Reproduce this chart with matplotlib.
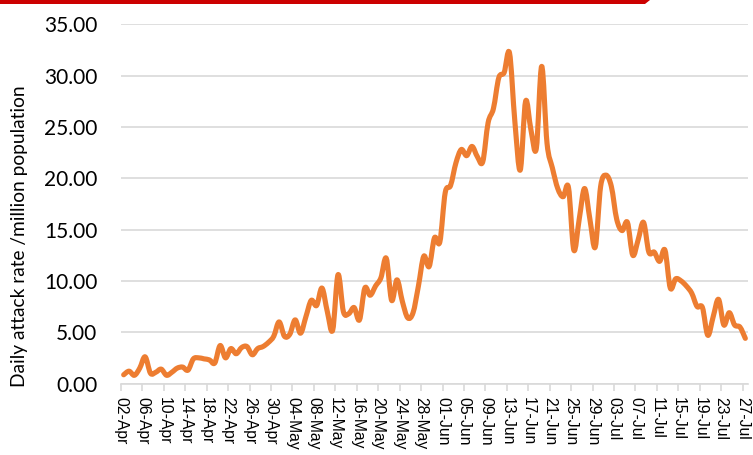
import matplotlib
matplotlib.use("Agg")
import matplotlib.pyplot as plt
from matplotlib.patches import Polygon, PathPatch
from matplotlib.path import Path
import datetime as dt

# ---- data ----
start_date = dt.date(2020, 4, 2)
rates = [
    0.85, 1.2, 0.8, 1.5, 2.6, 1.0, 1.1, 1.4, 0.8, 1.1,
    1.5, 1.6, 1.3, 2.4, 2.5, 2.4, 2.3, 2.0, 3.7, 2.5,
    3.4, 2.9, 3.5, 3.6, 2.8, 3.4, 3.6, 4.0, 4.6, 6.0,
    4.6, 4.8, 6.2, 4.9, 6.5, 8.1, 7.6, 9.3, 7.0, 5.2,
    10.6, 7.0, 6.8, 7.4, 6.2, 9.3, 8.6, 9.5, 10.3, 12.2,
    8.1, 10.1, 8.0, 6.4, 6.9, 9.5, 12.4, 11.4, 14.2, 13.8,
    18.6, 19.3, 21.5, 22.8, 22.2, 23.1, 22.1, 21.6, 25.4, 26.8,
    29.8, 30.3, 32.2, 25.5, 20.8, 27.5, 24.7, 22.9, 30.9, 23.4,
    21.0, 19.0, 18.2, 19.1, 13.0, 16.0, 19.0, 16.0, 13.3, 19.2,
    20.3, 19.2, 16.0, 14.9, 15.7, 12.5, 14.0, 15.7, 12.8, 12.8,
    11.9, 13.0, 9.3, 10.2, 10.0, 9.5, 8.8, 7.5, 7.4, 4.7,
    6.5, 8.2, 5.7, 6.9, 5.7, 5.5, 4.4,
]
dates = [start_date + dt.timedelta(days=i) for i in range(len(rates))]
date_labels = [d.strftime("%d-%b") for d in dates]
label_step = 4
y_ticks = [0, 5, 10, 15, 20, 25, 30, 35]
y_label = "Daily attack rate /million population"

# ---- figure ----
fig = plt.figure(figsize=(7.53, 4.55), dpi=100)
ax = fig.add_axes([121/753, 1-383.5/455, (748-121)/753, (383.5-24.3)/455])

x = list(range(len(rates)))
# smoothed line (Excel-style Bezier smoothing) through the data points
n = len(rates)
verts = [(x[0], rates[0])]
codes = [Path.MOVETO]
for i in range(n - 1):
    p0 = (x[max(i - 1, 0)], rates[max(i - 1, 0)])
    p1 = (x[i], rates[i])
    p2 = (x[i + 1], rates[i + 1])
    p3 = (x[min(i + 2, n - 1)], rates[min(i + 2, n - 1)])
    c1 = (p1[0] + (p2[0] - p0[0]) / 6, p1[1] + (p2[1] - p0[1]) / 6)
    c2 = (p2[0] - (p3[0] - p1[0]) / 6, p2[1] - (p3[1] - p1[1]) / 6)
    verts += [c1, c2, p2]
    codes += [Path.CURVE4] * 3
patch = PathPatch(Path(verts, codes), facecolor="none", edgecolor="#ED7D31",
                  lw=3.7, joinstyle="round", capstyle="round", zorder=3,
                  clip_on=False)
ax.add_patch(patch)

ax.set_xlim(-0.5, n - 0.5)
ax.set_ylim(0, 35)
ax.set_yticks(y_ticks)
ax.set_yticklabels([f"{v:.2f}" for v in y_ticks], fontfamily="Lato", fontsize=15)
ax.yaxis.grid(True, color="#D9D9D9", lw=1.2)
ax.set_axisbelow(True)
ax.tick_params(axis="y", length=0, pad=17, colors="#000000")

major = list(range(0, n, label_step))
ax.set_xticks([i - 0.5 for i in major])
ax.set_xticklabels([date_labels[i] for i in major], rotation=-90,
                   fontfamily="Liberation Sans", fontsize=11.3,
                   ha="center", va="top")
ax.tick_params(axis="x", which="major", length=5, width=1.2, color="#D9D9D9",
               labelcolor="#000000", pad=5)

for s in ["left", "top", "right"]:
    ax.spines[s].set_visible(False)
ax.spines["bottom"].set_color("#D9D9D9")
ax.spines["bottom"].set_linewidth(1.2)

fig.text(20/753, 1-236/455, y_label, rotation=90, ha="center", va="center",
         fontfamily="Lato", fontsize=13.8, color="#000000")

# red banner line at top
poly = Polygon([(0, 1), (650/753, 1), (645/753, 1-4/455), (0, 1-4/455)],
               closed=True, transform=fig.transFigure, color="#CC0000", lw=0)
fig.add_artist(poly)

fig.savefig("out.png", dpi=100)
